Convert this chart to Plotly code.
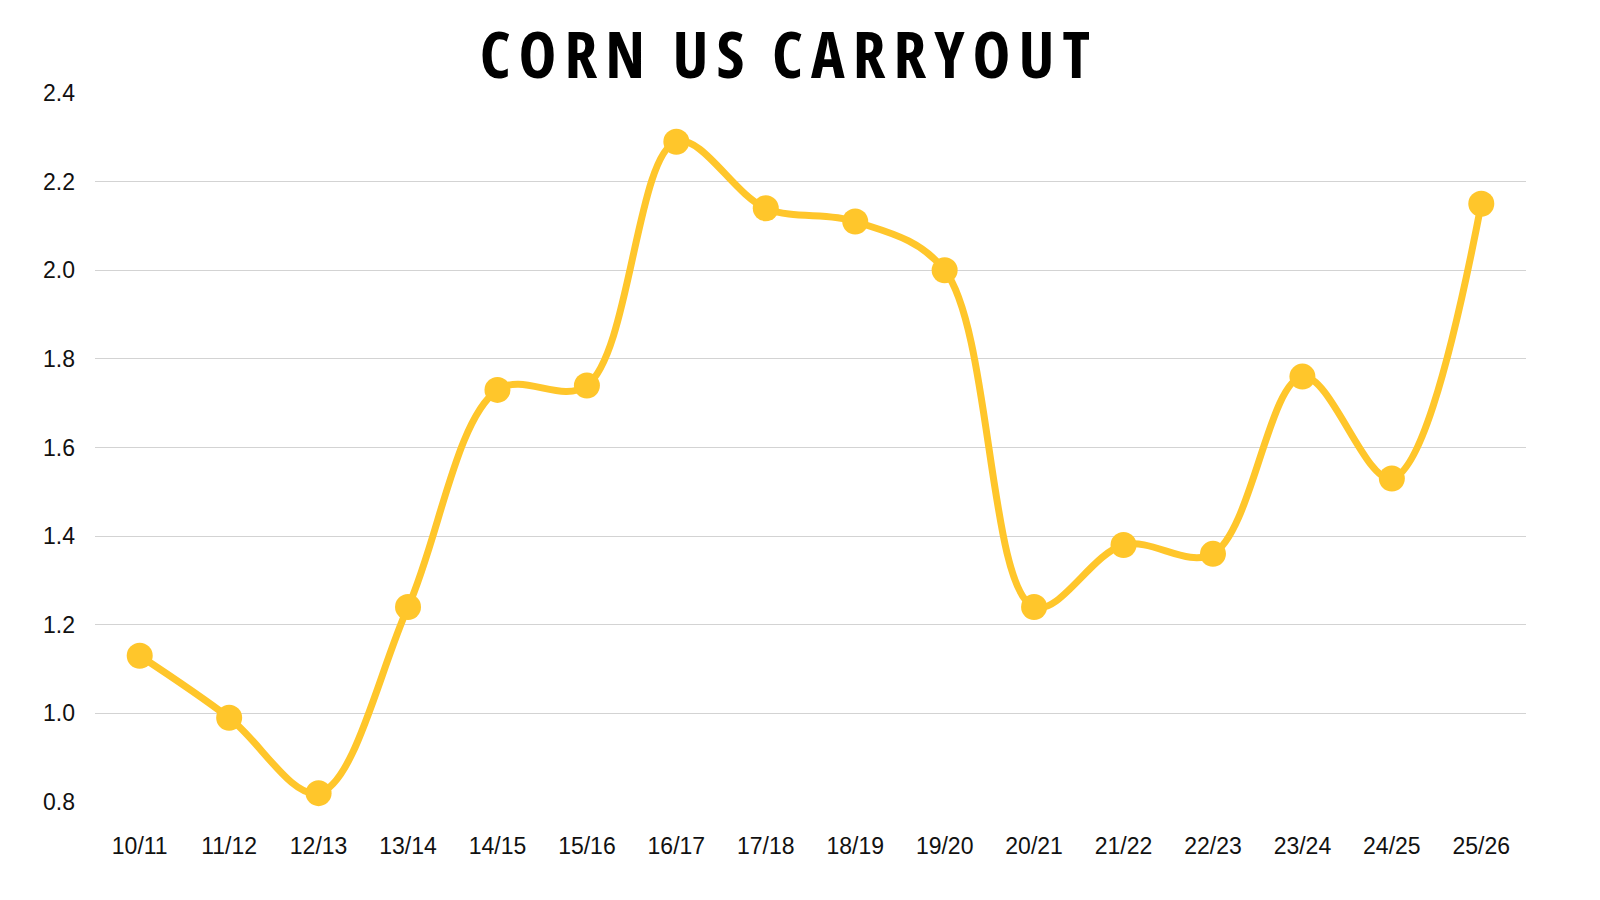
import plotly.graph_objects as go

seasons = ["10/11", "11/12", "12/13", "13/14", "14/15", "15/16", "16/17", "17/18",
           "18/19", "19/20", "20/21", "21/22", "22/23", "23/24", "24/25", "25/26"]
carryout = [1.13, 0.99, 0.82, 1.24, 1.73, 1.74, 2.29, 2.14,
            2.11, 2.00, 1.24, 1.38, 1.36, 1.76, 1.53, 2.15]
y_ticks = [0.8, 1.0, 1.2, 1.4, 1.6, 1.8, 2.0, 2.2, 2.4]

title_text = "CORN US CARRYOUT"

fig = go.Figure()

fig.add_trace(go.Scatter(
    x=seasons, y=carryout,
    mode="lines+markers",
    line=dict(color="#FFC62B", width=7, shape="spline", smoothing=1),
    marker=dict(color="#FFC62B", size=26),
    cliponaxis=False,
    hovertemplate="%{x}: %{y:.2f}<extra></extra>",
))

fig.update_layout(
    width=1600, height=900,
    paper_bgcolor="white", plot_bgcolor="white",
    showlegend=False,
    margin=dict(l=95, r=74, t=93, b=98),
    title=dict(
        # condensed face with wide tracking, like the poster heading
        text=f'<span style="font-stretch:75%;letter-spacing:8px">{title_text}</span>',
        x=0.493, xanchor="center",
        y=0.938, yanchor="middle",
        font=dict(family="Open Sans", size=64, color="black", weight="bold"),
    ),
    font=dict(family="Liberation Sans, Arial", size=23, color="#111111"),
)

fig.update_xaxes(
    range=[-0.5, len(seasons) - 0.5],
    showgrid=False, zeroline=False, showline=False,
    ticks="", ticklabelstandoff=28,
    tickfont=dict(size=23),
)
fig.update_yaxes(
    range=[0.8, 2.4],
    tickvals=y_ticks, ticktext=[f"{v:.1f}" for v in y_ticks],
    showgrid=True, gridcolor="#D3D3D3", gridwidth=1,
    zeroline=False, showline=False,
    ticks="", ticklabelstandoff=19,
    tickfont=dict(size=23),
)

fig.write_html("out.html", config={"displayModeBar": False},
               post_script="document.body.style.margin='0';document.body.style.overflow='hidden';")
